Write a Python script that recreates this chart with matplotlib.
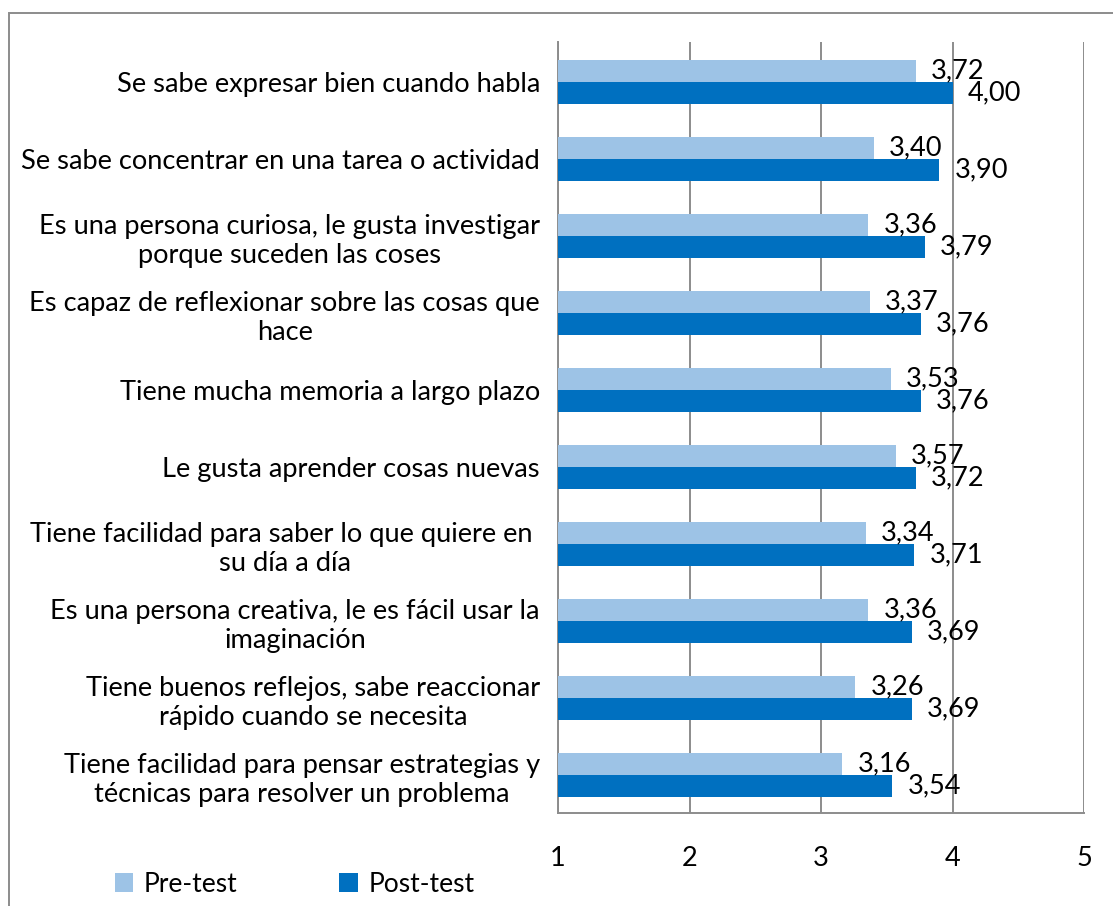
import numpy as np
import matplotlib
matplotlib.use("Agg")
import matplotlib.pyplot as plt
from matplotlib.patches import Rectangle

plt.rcParams['font.family'] = ['Lato', 'DejaVu Sans']

categories = [
    "Se sabe expresar bien cuando habla",
    "Se sabe concentrar en una tarea o actividad",
    "Es una persona curiosa, le gusta investigar\nporque suceden las coses",
    "Es capaz de reflexionar sobre las cosas que\nhace",
    "Tiene mucha memoria a largo plazo",
    "Le gusta aprender cosas nuevas",
    "Tiene facilidad para saber lo que quiere en \nsu día a día",
    "Es una persona creativa, le es fácil usar la\nimaginación",
    "Tiene buenos reflejos, sabe reaccionar\nrápido cuando se necesita",
    "Tiene facilidad para pensar estrategias y\ntécnicas para resolver un problema",
]
pre_test = [3.72, 3.40, 3.36, 3.37, 3.53, 3.57, 3.34, 3.36, 3.26, 3.16]
post_test = [4.00, 3.90, 3.79, 3.76, 3.76, 3.72, 3.71, 3.69, 3.69, 3.54]
x_ticks = [1, 2, 3, 4, 5]

c_pre = '#9DC3E6'
c_post = '#0070C0'
grey = '#8C8C8C'

fig = plt.figure(figsize=(11.13, 9.06), dpi=100)
ax = fig.add_axes([558/1113, 1 - 813/906, (1084 - 558)/1113, (813 - 42)/906])

y = np.arange(len(categories))
h = 0.286
bars_pre = ax.barh(y - h/2, np.array(pre_test) - 1, left=1, height=h, color=c_pre, label='Pre-test', zorder=3)
bars_post = ax.barh(y + h/2, np.array(post_test) - 1, left=1, height=h, color=c_post, label='Post-test', zorder=3)

for bars, vals in [(bars_pre, pre_test), (bars_post, post_test)]:
    for b, v in zip(bars, vals):
        ax.annotate(f"{v:.2f}".replace('.', ','), (v, b.get_y() + b.get_height()/2),
                    xytext=(11, 0), textcoords='offset points',
                    ha='left', va='center', fontsize=19.5, zorder=4)

ax.set_xlim(1, 5)
ax.set_ylim(9.49, -0.52)
ax.set_xticks(x_ticks)
ax.set_xticklabels([str(t) for t in x_ticks], fontsize=19.5)
ax.set_yticks(y)
ax.set_yticklabels(categories, fontsize=19.6, multialignment='center', linespacing=1.22)
ax.tick_params(axis='both', length=0)
ax.tick_params(axis='x', pad=24)
ax.tick_params(axis='y', pad=13)
ax.xaxis.grid(True, color=grey, lw=1.4)
ax.set_axisbelow(True)
for s in ['top', 'right']:
    ax.spines[s].set_visible(False)
for s in ['left', 'bottom']:
    ax.spines[s].set_color(grey)
    ax.spines[s].set_linewidth(1.4)

fig.legend(handles=[bars_pre, bars_post], loc='center left', bbox_to_anchor=(91/1113, 1 - 884/906),
           ncol=2, frameon=False, fontsize=19, handlelength=0.7, handleheight=0.7,
           handletextpad=0.4, columnspacing=3.85)

fig.add_artist(Rectangle((9/1113, -0.1), 1.2, (1 - 13/906) + 0.1, transform=fig.transFigure,
                         fill=False, edgecolor=grey, lw=1.4))

fig.savefig('out.png', dpi=100)
